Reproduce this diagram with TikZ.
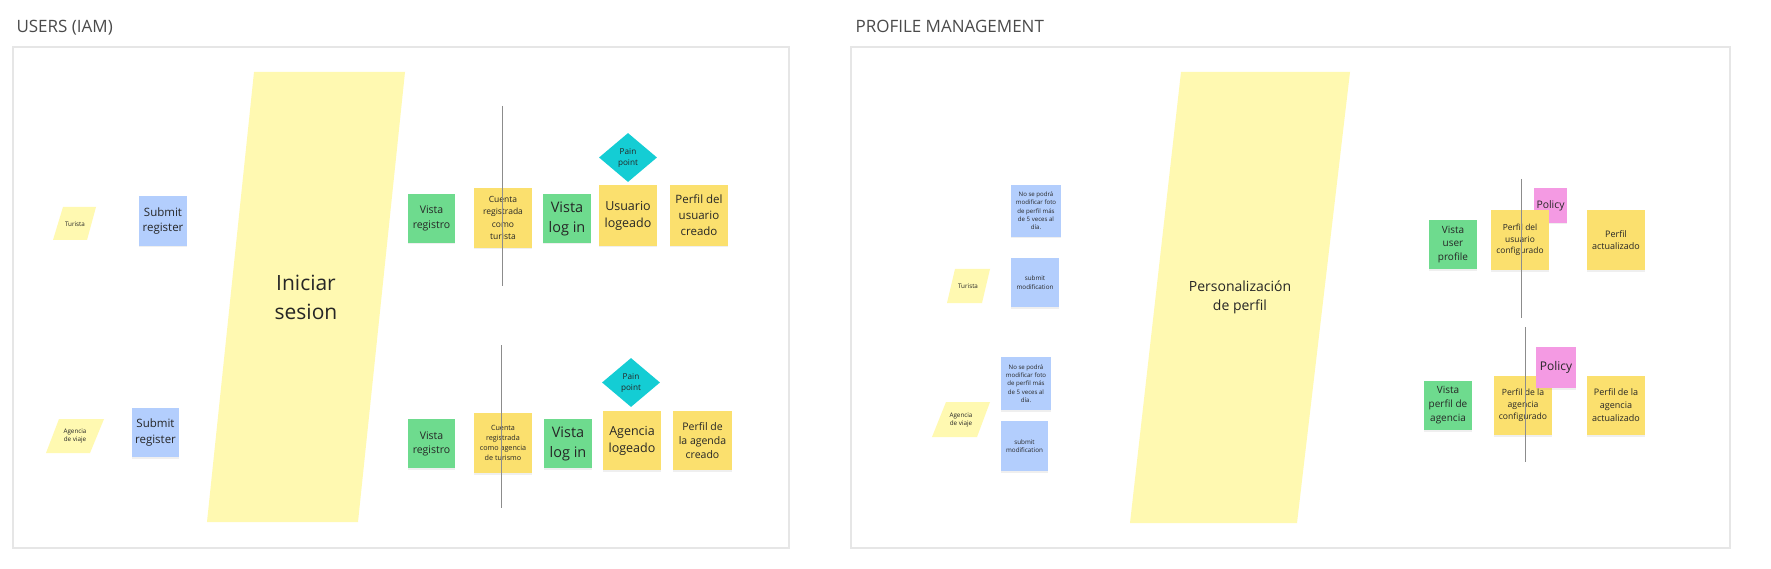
\documentclass[tikz,border=0pt]{standalone}
\usepackage{fontspec}
\setmainfont{Open Sans}
\usetikzlibrary{shapes.geometric, shadows}

\definecolor{slipyellow}{HTML}{FFF9B1}
\definecolor{eventyellow}{HTML}{FBE06E}
\definecolor{viewgreen}{HTML}{6EDB8E}
\definecolor{cmdblue}{HTML}{B3CEFD}
\definecolor{policypink}{HTML}{F49AE3}
\definecolor{paincyan}{HTML}{14CDD4}
\definecolor{framegray}{HTML}{E6E6E6}
\definecolor{cutgray}{HTML}{8C8C8C}
\definecolor{inkgray}{HTML}{262626}
\definecolor{titlegray}{HTML}{4A4A4A}

\begin{document}
\begin{tikzpicture}[x=1pt, y=-1pt, text=inkgray,
  fs/.style 2 args={font=\fontsize{#1}{#2}\selectfont},
  title/.style={anchor=base west, text=titlegray, fs={17}{20}},
  frame/.style={draw=framegray, line width=1.5pt, fill=white},
  slip/.style={fill=slipyellow},
  sticky/.style={inner sep=1pt, align=center,
    drop shadow={opacity=.12, shadow xshift=0pt, shadow yshift=-1.5pt}},
  event/.style={sticky, fill=eventyellow, minimum width=58, minimum height=60},
  command/.style={sticky, fill=cmdblue, minimum width=48, minimum height=50},
  view/.style={sticky, fill=viewgreen, minimum width=48, minimum height=49},
  policy/.style={sticky, fill=policypink},
  pain/.style={diamond, fill=paincyan, minimum width=58, minimum height=49,
    inner sep=0pt, align=center, fs={8.2}{11}},
  cut/.style={draw=cutgray, line width=1pt}]
\useasboundingbox (0,0) rectangle (1771,569);
% Boards and their titles
\draw[frame] (13,47) rectangle (789,548);
\draw[frame] (851,47) rectangle (1730,548);
\node[title] (usersTitle) at (13,33) {USERS (IAM)};
\node[title] (profileTitle) at (852,33) {PROFILE MANAGEMENT};
% Users board: actors and the big slip
\fill[slip] (53,240) -- (87,240) -- (96,207) -- (63,207) -- cycle;
\node[fs={6.3}{8.5}] (turistaA) at (75,224) {Turista};
\fill[slip] (46,453) -- (90,453) -- (104,419) -- (59,419) -- cycle;
\node[fs={6.3}{8.5}, align=center] (agenciaA) at (75,436) {Agencia\\de viaje};
\fill[slip] (207,522) -- (358,522) -- (405,72) -- (254,72) -- cycle;
\node[fs={21}{29}, align=center] (iniciar) at (306,297) {Iniciar\\sesion};
\node[command, fs={11.5}{15.5}] (submitT) at (163,221) {Submit\\register};
\node[command, fs={11.5}{15.5}, minimum width=47, minimum height=49] (submitA) at (155.5,432.5) {Submit\\register};
% Users board: turista row
\node[view, fs={10.5}{14.5}, minimum width=47] (vistaRegT) at (431.5,218.5) {Vista\\registro};
\node[event, fs={8.5}{12.5}] (cuentaT) at (503,218) {Cuenta\\registrada\\como\\turista};
\node[view, fs={14.5}{20}] (vistaLogT) at (567,218.5) {Vista\\log in};
\node[pain] (painT) at (628,157.5) {Pain\\point};
\node[event, fs={12.5}{17}, minimum height=61] (usuarioLog) at (628,215.5) {Usuario\\logeado};
\node[event, fs={11.5}{16}, minimum height=61] (perfilT) at (699,215.5) {Perfil del\\usuario\\creado};
% Users board: agencia row
\node[view, fs={10.5}{14}, minimum width=47] (vistaRegA) at (431.5,443.5) {Vista\\registro};
\node[event, fs={7.2}{9.8}] (cuentaA) at (503,443) {Cuenta\\registrada\\como agencia\\de turismo};
\node[view, fs={14.5}{20}] (vistaLogA) at (568,443.5) {Vista\\log in};
\node[pain] (painA) at (631,382.5) {Pain\\point};
\node[event, fs={12.5}{17}, minimum height=59] (agenciaLog) at (632,440.5) {Agencia\\logeado};
\node[event, fs={10.5}{14}, minimum width=59, minimum height=59] (perfilA) at (702.5,440.5) {Perfil de\\la agenda\\creado};
% Profile board: actors and the big slip
\fill[slip] (947,303) -- (982,303) -- (990,269) -- (955,269) -- cycle;
\node[fs={6.3}{8.5}] (turistaB) at (968,286) {Turista};
\fill[slip] (932,437) -- (977,437) -- (990,402) -- (946,402) -- cycle;
\node[fs={6.3}{8.5}, align=center] (agenciaB) at (961,420) {Agencia\\de viaje};
\fill[slip] (1130,523) -- (1297,523) -- (1350,72) -- (1181,72) -- cycle;
\node[fs={14}{19}, align=center] (personal) at (1240,297) {Personalización\\de perfil};
\node[command, fs={6.1}{8.3}, minimum width=50, minimum height=52] (ruleT) at (1036,211) {No se podrá\\modificar foto\\de perfil más\\de 5 veces al\\día.};
\node[command, fs={6.3}{8.5}, minimum height=49] (modT) at (1035,282.5) {submit\\modification};
\node[command, fs={6.1}{8.3}, minimum width=50, minimum height=53] (ruleA) at (1026,383.5) {No se podrá\\modificar foto\\de perfil más\\de 5 veces al\\día.};
\node[command, fs={6.3}{8.5}, minimum width=47] (modA) at (1024.5,446) {submit\\modification};
% Profile board: usuario row (policy behind the event)
\node[view, fs={10}{13.7}] (vistaUser) at (1453,244.5) {Vista\\user\\profile};
\node[policy, fs={10.4}{12}, minimum width=33, minimum height=35] (policyT) at (1550.5,205.5) {Policy};
\node[event, fs={8.4}{11.7}] (confT) at (1520,240) {Perfil del\\usuario\\configurado};
\node[event, fs={9}{12.3}] (actT) at (1616,240) {Perfil\\actualizado};
% Profile board: agencia row (policy on top)
\node[view, fs={10}{14}] (vistaAgencia) at (1448,405.5) {Vista\\perfil de\\agencia};
\node[event, fs={8.6}{12}, minimum height=59] (confA) at (1523,405.5) {Perfil de la\\agencia\\configurado};
\node[policy, fs={12}{14}, minimum width=40, minimum height=41] (policyA) at (1556,367.5) {Policy};
\node[event, fs={9}{13}, minimum height=59] (actA) at (1616,405.5) {Perfil de la\\agencia\\actualizado};
% Cut lines over the notes
\coordinate (cutTtop) at (502,106);
\coordinate (cutTbot) at (502,286);
\coordinate (cutAtop) at (501,345);
\coordinate (cutAbot) at (501,508);
\coordinate (cutUtop) at (1521,179);
\coordinate (cutUbot) at (1521,318);
\coordinate (cutPtop) at (1525,327);
\coordinate (cutPbot) at (1525,462);
\draw[cut] (cutTtop) -- (cutTbot);
\draw[cut] (cutAtop) -- (cutAbot);
\draw[cut] (cutUtop) -- (cutUbot);
\draw[cut] (cutPtop) -- (cutPbot);
\end{tikzpicture}
\end{document}
